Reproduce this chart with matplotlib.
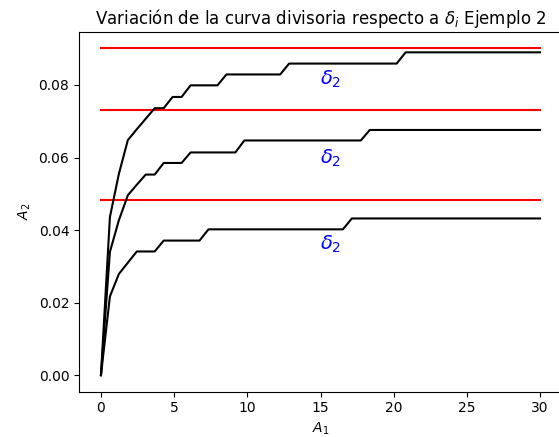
import numpy as np
import matplotlib
matplotlib.use("Agg")
import matplotlib.pyplot as plt

# abscissa grid of the divisoria curves
a1 = np.linspace(0, 30, 50)

# A2 values of each curve on that grid (lowest, middle, highest delta)
curva_baja = [0.0, 0.0217, 0.0279, 0.0310, 0.0341, 0.0341, 0.0341,
              0.0371, 0.0371, 0.0371, 0.0371, 0.0371,
              0.0402, 0.0402, 0.0402, 0.0402, 0.0402, 0.0402, 0.0402, 0.0402,
              0.0402, 0.0402, 0.0402, 0.0402, 0.0402, 0.0402, 0.0402, 0.0402,
              0.0432, 0.0432, 0.0432, 0.0432, 0.0432, 0.0432, 0.0432, 0.0432,
              0.0432, 0.0432, 0.0432, 0.0432, 0.0432, 0.0432, 0.0432, 0.0432,
              0.0432, 0.0432, 0.0432, 0.0432, 0.0432, 0.0432]
curva_media = [0.0, 0.0340, 0.0427, 0.0496, 0.0525, 0.0553, 0.0553,
               0.0585, 0.0585, 0.0585,
               0.0614, 0.0614, 0.0614, 0.0614, 0.0614, 0.0614,
               0.0647, 0.0647, 0.0647, 0.0647, 0.0647, 0.0647, 0.0647,
               0.0647, 0.0647, 0.0647, 0.0647, 0.0647, 0.0647, 0.0647,
               0.0676, 0.0676, 0.0676, 0.0676, 0.0676, 0.0676, 0.0676,
               0.0676, 0.0676, 0.0676, 0.0676, 0.0676, 0.0676, 0.0676,
               0.0676, 0.0676, 0.0676, 0.0676, 0.0676, 0.0676]
curva_alta = [0.0, 0.0436, 0.0555, 0.0648, 0.0678, 0.0707, 0.0736,
              0.0736, 0.0767, 0.0767,
              0.0799, 0.0799, 0.0799, 0.0799,
              0.0829, 0.0829, 0.0829, 0.0829, 0.0829, 0.0829, 0.0829,
              0.0859, 0.0859, 0.0859, 0.0859, 0.0859, 0.0859, 0.0859,
              0.0859, 0.0859, 0.0859, 0.0859, 0.0859, 0.0859,
              0.0890, 0.0890, 0.0890, 0.0890, 0.0890, 0.0890, 0.0890, 0.0890,
              0.0890, 0.0890, 0.0890, 0.0890, 0.0890, 0.0890, 0.0890, 0.0890]

# delta levels drawn as horizontal reference lines
deltas = [0.0901, 0.0731, 0.0482]
# where each delta_2 label sits
etiqueta_x = 15
etiqueta_y = [0.0802, 0.0582, 0.0345]

fig = plt.figure(figsize=(5.59, 4.37), dpi=100)
ax = fig.add_axes([79 / 559, 45.5 / 437, 483 / 559, 359.5 / 437])

for d in deltas:
    ax.plot([a1[0], a1[-1]], [d, d], color='red')
for curva in (curva_alta, curva_media, curva_baja):
    ax.plot(a1, curva, color='k')
for yy in etiqueta_y:
    ax.text(etiqueta_x, yy, r'$\delta_2$', color='blue', fontsize=14)

ax.set_title(r'Variación de la curva divisoria respecto a $\delta_i$ Ejemplo 2')
ax.set_xlabel(r'$A_1$')
ax.set_ylabel(r'$A_2$')

fig.savefig('out.png', dpi=100)
